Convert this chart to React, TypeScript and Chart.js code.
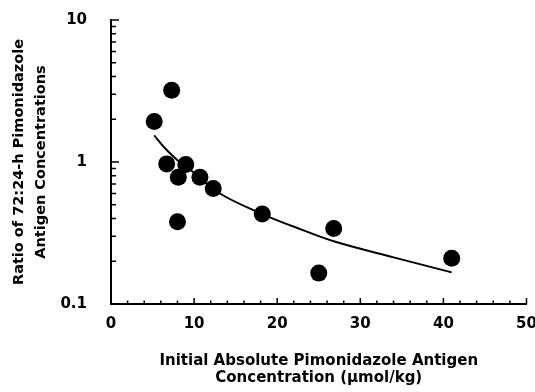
import React, { useEffect, useRef } from 'react';
import { Chart, registerables } from 'chart.js';

Chart.register(...registerables);

// Measured points
const pointX = [5.2, 7.3, 6.7, 9.0, 8.1, 10.7, 12.3, 8.0, 18.2, 26.8, 25.0, 41.0];
const pointY = [1.93, 3.2, 0.97, 0.96, 0.78, 0.78, 0.65, 0.38, 0.43, 0.34, 0.165, 0.21];

// Fitted curve
const fitX = [5.2, 6.5, 8, 10, 13.1, 18.2, 23, 27.1, 34, 41];
const fitY = [1.54, 1.25, 1.03, 0.84, 0.6, 0.43, 0.333, 0.273, 0.213, 0.167];

// Axis ticks
const xMin = 0;
const xMax = 50;
const xMajorStep = 10;
const xMinorStep = 2;
const yMajorTicks = [0.1, 1, 10];
const yMinorTicks = [0.2, 0.3, 0.4, 0.5, 0.6, 0.7, 0.8, 0.9, 2, 3, 4, 5, 6, 7, 8, 9];

const xTitle = ['Initial Absolute Pimonidazole Antigen', 'Concentration (\u00b5mol/kg)'];
const yTitle = ['Ratio of 72:24-h Pimonidazole', 'Antigen Concentrations'];

const FONT = 'DejaVu Sans';

const insideTicks = {
  id: 'insideTicks',
  afterDraw(chart: any) {
    const { ctx, chartArea, scales } = chart;
    const xs = scales.x;
    const ys = scales.y;
    ctx.save();
    ctx.strokeStyle = '#000';
    ctx.lineWidth = 1.5;
    ctx.beginPath();
    for (let v = xMin; v <= xMax + 1e-9; v += xMinorStep) {
      const px = xs.getPixelForValue(v);
      const isMajor = Math.abs(v % xMajorStep) < 1e-9;
      const len = isMajor ? 6 : 3.5;
      ctx.moveTo(px, chartArea.bottom);
      ctx.lineTo(px, chartArea.bottom - len);
    }
    yMajorTicks.forEach((v) => {
      const py = ys.getPixelForValue(v);
      ctx.moveTo(chartArea.left, py);
      ctx.lineTo(chartArea.left + 8, py);
    });
    yMinorTicks.forEach((v) => {
      const py = ys.getPixelForValue(v);
      ctx.moveTo(chartArea.left, py);
      ctx.lineTo(chartArea.left + 5, py);
    });
    ctx.stroke();
    ctx.restore();
  },
};

export default function App() {
  const ref = useRef<HTMLCanvasElement | null>(null);

  useEffect(() => {
    if (!ref.current) return;
    const chart = new Chart(ref.current, {
      type: 'scatter',
      data: {
        datasets: [
          {
            label: 'points',
            data: pointX.map((x, i) => ({ x, y: pointY[i] })),
            backgroundColor: '#000',
            borderColor: '#000',
            borderWidth: 0,
            pointRadius: 8.5,
            pointHoverRadius: 8.5,
          },
          {
            label: 'fit',
            data: fitX.map((x, i) => ({ x, y: fitY[i] })),
            showLine: true,
            borderColor: '#000',
            borderWidth: 2,
            pointRadius: 0,
            fill: false,
            tension: 0.35,
          } as any,
        ],
      },
      options: {
        animation: false,
        responsive: false,
        devicePixelRatio: 1,
        layout: { padding: { top: 20, right: 2, left: 0, bottom: 0 } },
        plugins: {
          legend: { display: false },
          tooltip: { enabled: false },
        },
        scales: {
          x: {
            type: 'linear',
            position: 'bottom',
            min: xMin,
            max: xMax,
            grid: { display: false, drawTicks: false },
            border: { display: true, color: '#000', width: 2 },
            ticks: {
              stepSize: xMajorStep,
              color: '#000',
              padding: 11,
              maxRotation: 0,
              autoSkip: false,
              font: { family: FONT, size: 15, weight: 'bold' },
            },
            title: {
              display: true,
              text: xTitle,
              color: '#000',
              font: { family: FONT, size: 15, weight: 'bold', lineHeight: '17.5px' },
              padding: { top: 0, bottom: 5 },
            },
            afterFit(scale: any) {
              scale.height = 88;
              scale.paddingLeft = 0;
              scale.paddingRight = 0;
            },
          },
          y: {
            type: 'logarithmic',
            position: 'left',
            min: 0.1,
            max: 10,
            grid: { display: false, drawTicks: false },
            border: { display: true, color: '#000', width: 2 },
            afterBuildTicks(scale: any) {
              scale.ticks = yMajorTicks.map((v) => ({ value: v }));
            },
            ticks: {
              color: '#000',
              padding: 24,
              autoSkip: false,
              callback: (v: any) => String(v),
              font: { family: FONT, size: 15, weight: 'bold' },
            },
            title: {
              display: true,
              text: yTitle,
              color: '#000',
              font: { family: FONT, size: 14.5, weight: 'bold', lineHeight: '22px' },
              padding: { top: 8, bottom: 0 },
            },
            afterFit(scale: any) {
              scale.width = 111;
              scale.paddingTop = 0;
              scale.paddingBottom = 0;
            },
          },
        },
      },
      plugins: [insideTicks],
    } as any);
    return () => chart.destroy();
  }, []);

  return (
    <div style={{ position: 'absolute', left: 0, top: 0, width: 535, height: 392, background: '#fff' }}>
      <canvas ref={ref} width={535} height={392} style={{ display: 'block' }} />
    </div>
  );
}
